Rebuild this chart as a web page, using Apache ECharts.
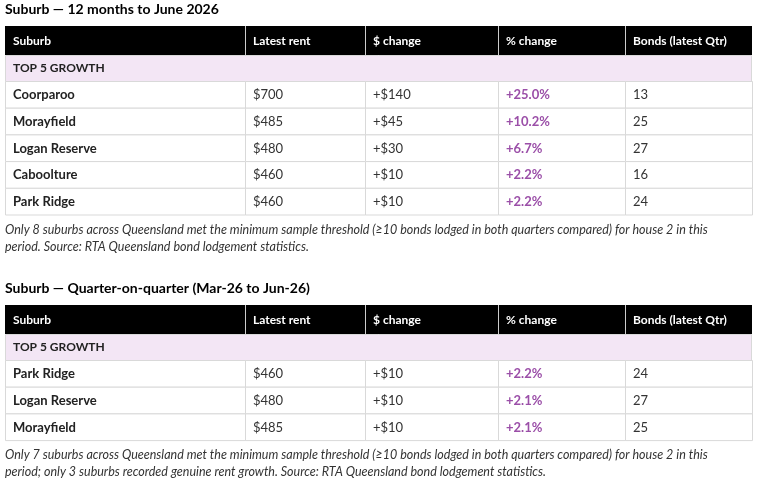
<!DOCTYPE html>
<html><head><meta charset="utf-8">
<script src="https://cdn.jsdelivr.net/npm/echarts@6/dist/echarts.min.js"></script>
<style>html,body{margin:0;padding:0;background:#fff}#c{width:759px;height:486px}</style>
</head><body><div id="c"></div>
<script>
const headers = ['Suburb','Latest rent','$ change','% change','Bonds (latest Qtr)'];
const groupLabel = 'TOP 5 GROWTH';
const t1Title = 'Suburb — 12 months to June 2026';
const t1Suburbs = ['Coorparoo','Morayfield','Logan Reserve','Caboolture','Park Ridge'];
const t1Rent = ['$700','$485','$480','$460','$460'];
const t1Change = ['+$140','+$45','+$30','+$10','+$10'];
const t1Pct = ['+25.0%','+10.2%','+6.7%','+2.2%','+2.2%'];
const t1Bonds = ['13','25','27','16','24'];
const t1Note = ['Only 8 suburbs across Queensland met the minimum sample threshold (≥10 bonds lodged in both quarters compared) for house 2 in this','period. Source: RTA Queensland bond lodgement statistics.'];
const t2Title = 'Suburb — Quarter-on-quarter (Mar-26 to Jun-26)';
const t2Suburbs = ['Park Ridge','Logan Reserve','Morayfield'];
const t2Rent = ['$460','$480','$485'];
const t2Change = ['+$10','+$10','+$10'];
const t2Pct = ['+2.2%','+2.1%','+2.1%'];
const t2Bonds = ['24','27','25'];
const t2Note = ['Only 7 suburbs across Queensland met the minimum sample threshold (≥10 bonds lodged in both quarters compared) for house 2 in this','period; only 3 suburbs recorded genuine rent growth. Source: RTA Queensland bond lodgement statistics.'];

const FONT = 'Lato, "Open Sans", sans-serif';
const colX = [5,245,365,498,625,752];
const els = [];
function txt(x,y,s,o){els.push({type:'text',x:x,y:y,style:Object.assign({text:s,fill:'#333',font:'13px '+FONT,textVerticalAlign:'middle'},o||{})});}
function rect(x,y,w,h,fill,stroke){els.push({type:'rect',shape:{x:x,y:y,width:w,height:h},style:{fill:fill,stroke:stroke||null,lineWidth:1}});}
function table(top,title,cols,note){
  txt(5,top-17,title,{fill:'#000',font:'bold 14px '+FONT});
  const W=colX[5]-colX[0];
  rect(colX[0],top,W,29,'#000');
  for(let i=1;i<5;i++) els.push({type:'line',shape:{x1:colX[i]+.5,y1:top,x2:colX[i]+.5,y2:top+29},style:{stroke:'#ccc',lineWidth:1}});
  headers.forEach((h,i)=>txt(colX[i]+8,top+15,h,{fill:'#fff',font:'bold 12px '+FONT}));
  let y=top+29;
  rect(colX[0]+.5,y+.5,W-1,26,'#f3e6f5','#d9d9d9');
  txt(colX[0]+8,y+13,groupLabel,{fill:'#222',font:'bold 12px '+FONT});
  y+=26;
  const n=cols[0].length;
  for(let r=0;r<n;r++){
    for(let c=0;c<5;c++){
      rect(colX[c]+.5,y+.5,colX[c+1]-colX[c],26.7,'#fff','#d9d9d9');
      const o = c===3?{fill:'#9b4fa8',font:'bold 13px '+FONT}:(c===0?{fill:'#222',font:'bold 13px '+FONT}:{});
      txt(colX[c]+8,y+14,cols[c][r],o);
    }
    y+=26.7;
  }
  note.forEach((l,i)=>txt(5,y+15+i*17,l,{fill:'#333',font:'italic 12.5px '+FONT}));
}
table(26,t1Title,[t1Suburbs,t1Rent,t1Change,t1Pct,t1Bonds],t1Note);
table(305,t2Title,[t2Suburbs,t2Rent,t2Change,t2Pct,t2Bonds],t2Note);
const chart=echarts.init(document.getElementById('c'));
chart.setOption({animation:false,graphic:{elements:els}});
</script></body></html>
